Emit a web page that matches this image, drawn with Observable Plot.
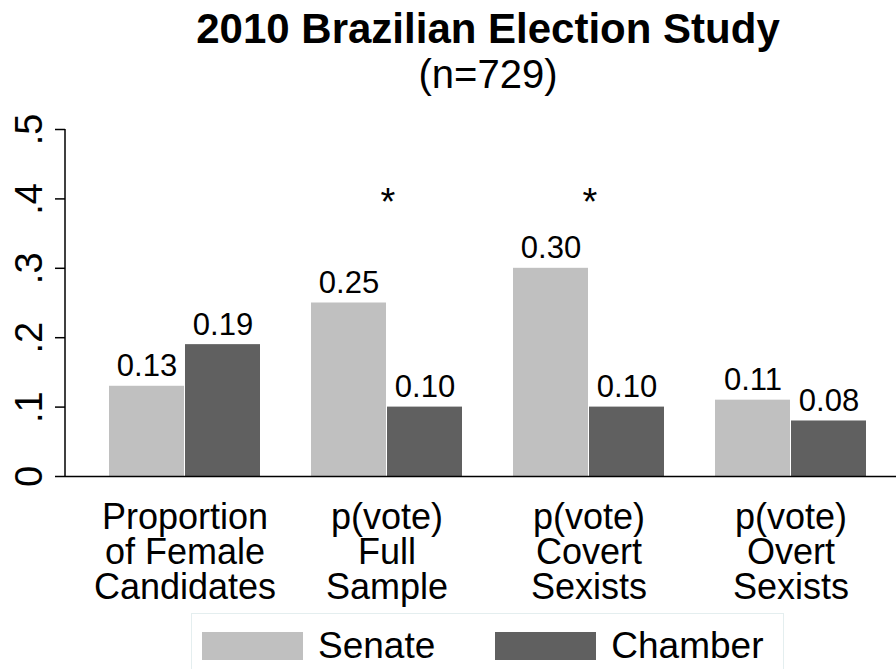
<!DOCTYPE html>
<html>
<head>
<meta charset="utf-8">
<script src="https://cdn.jsdelivr.net/npm/d3@7"></script>
<script src="https://cdn.jsdelivr.net/npm/@observablehq/plot@0.6"></script>
<style>
  html, body { margin: 0; padding: 0; background: #fff; }
  #wrap {
    position: relative; width: 896px; height: 669px; overflow: hidden;
    font-family: "Liberation Sans", Arial, Helvetica, sans-serif; color: #000;
  }
  #title {
    position: absolute; left: 40px; width: 896px; top: 4px;
    text-align: center; font-weight: bold; font-size: 42px; line-height: 50px;
  }
  #subtitle {
    position: absolute; left: 40px; width: 896px; top: 53px;
    text-align: center; font-size: 40px; line-height: 42px;
  }
  #chart { position: absolute; left: 0; top: 100px; }
  #legend {
    position: absolute; left: 191px; top: 613px; width: 593px; height: 70px;
    box-sizing: border-box; border: 1px solid #e4eeef; padding: 11px 0 0 10px;
  }
  #legend .lg-swatches {
    font-family: "Liberation Sans", Arial, sans-serif !important; font-size: 37px !important;
    margin: 0 !important; min-height: 0 !important; color: #000;
    flex-wrap: nowrap !important; white-space: nowrap;
  }
  #legend .lg-swatch { margin-right: 60px !important; }
  #legend .lg-swatch:last-child { margin-right: 0 !important; }
  #legend .lg-swatch > svg { margin-right: 15px !important; }
</style>
</head>
<body>
<div id="wrap">
  <div id="title">2010 Brazilian Election Study</div>
  <div id="subtitle">(n=729)</div>
  <div id="chart"></div>
  <div id="legend"></div>
</div>
<script>
// Groups along the x axis (line breaks as drawn under each group)
const categories = [
  "Proportion\nof Female\nCandidates",
  "p(vote)\nFull\nSample",
  "p(vote)\nCovert\nSexists",
  "p(vote)\nOvert\nSexists"
];
const series = ["Senate", "Chamber"];
const senate = [0.13, 0.25, 0.30, 0.11];
const chamber = [0.19, 0.10, 0.10, 0.08];
// Groups where the Senate/Chamber difference is significant, and the level of the star
const significant = [false, true, true, false];
const starLevel = 0.4;
const yTicks = [0, 0.1, 0.2, 0.3, 0.4, 0.5];
const yTickLabels = ["0", ".1", ".2", ".3", ".4", ".5"];
const seriesColors = ["#c0c0c0", "#606060"];

const rows = categories.flatMap((c, i) => [
  {category: c, series: "Senate", value: senate[i]},
  {category: c, series: "Chamber", value: chamber[i]}
]);
const senateRows = rows.filter(d => d.series === "Senate");
const chamberRows = rows.filter(d => d.series === "Chamber");
const stars = categories.filter((c, i) => significant[i]).map(c => ({category: c, y: starLevel}));

const width = 896, height = 512;
const marginLeft = 65, marginRight = 0, marginTop = 29, marginBottom = 136;
const xScale = {
  type: "band", domain: categories,
  paddingInner: 0.2512, paddingOuter: 0.1724, align: 0.6
};
// Each group band holds two adjacent bars
const bw = Plot.scale({x: {...xScale, range: [marginLeft, width - marginRight]}}).bandwidth;
const fmt = d => d.value.toFixed(2);

// Vertical axis line from the first to the last y tick
function yAxisLine(index, {y}, values, dims) {
  return d3.create("svg:line")
    .attr("x1", dims.marginLeft).attr("x2", dims.marginLeft)
    .attr("y1", y(yTicks[0])).attr("y2", y(yTicks[yTicks.length - 1]))
    .attr("stroke", "#000").attr("stroke-width", 1.5)
    .node();
}

const chart = Plot.plot({
  width, height, marginLeft, marginRight, marginTop, marginBottom,
  style: {fontFamily: "'Liberation Sans', Arial, sans-serif", color: "#000", background: "transparent", overflow: "visible"},
  x: {...xScale, label: null},
  y: {domain: [0, 0.5], label: null},
  color: {domain: series, range: seriesColors},
  marks: [
    Plot.barY(senateRows, {x: "category", y: "value", fill: "series", insetRight: bw / 2}),
    Plot.barY(chamberRows, {x: "category", y: "value", fill: "series", insetLeft: bw / 2}),
    Plot.text(senateRows, {x: "category", y: "value", text: fmt, dx: -bw / 4, dy: -10, lineAnchor: "bottom", fontSize: 31}),
    Plot.text(chamberRows, {x: "category", y: "value", text: fmt, dx: bw / 4, dy: -10, lineAnchor: "bottom", fontSize: 31}),
    Plot.text(stars, {x: "category", y: "y", text: () => "*", dx: 1, dy: 4, lineAnchor: "middle", fontSize: 38}),
    Plot.ruleY([0], {strokeWidth: 1.6}),
    yAxisLine,
    Plot.axisY({
      ticks: yTicks, tickFormat: d => yTickLabels[yTicks.indexOf(d)],
      tickRotate: -90, tickSize: 10, tickPadding: 14, fontSize: 38,
      stroke: "#000", strokeWidth: 1.5, strokeOpacity: 1, label: null
    }),
    Plot.axisX({tickSize: 0, tickPadding: 28, fontSize: 36, lineHeight: 35 / 36, label: null})
  ]
});
document.getElementById("chart").appendChild(chart);

const legend = chart.legend("color", {swatchWidth: 101, swatchHeight: 28, className: "lg"});
document.getElementById("legend").appendChild(legend);
</script>
</body>
</html>
